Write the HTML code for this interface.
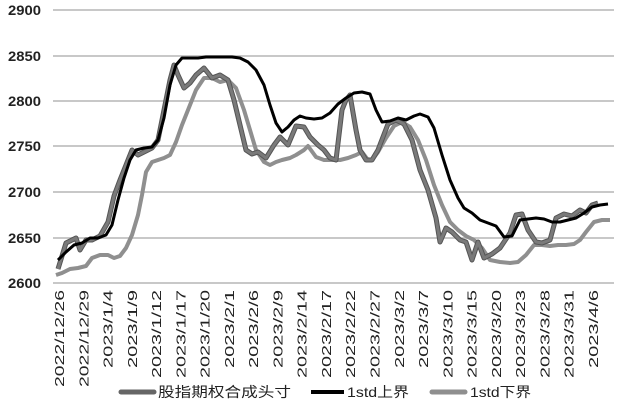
<!DOCTYPE html>
<html><head><meta charset="utf-8"><style>
html,body{margin:0;padding:0;background:#fff;}
svg{display:block;font-family:"Liberation Sans","Noto Sans CJK SC",sans-serif;}
</style></head><body>
<svg width="618" height="407" viewBox="0 0 618 407" xmlns="http://www.w3.org/2000/svg">
<rect width="618" height="407" fill="#fff"/>
<g stroke="#c8c8c8" stroke-width="2">
<line x1="53" y1="10" x2="614" y2="10"/>
<line x1="53" y1="56" x2="614" y2="56"/>
<line x1="53" y1="101" x2="614" y2="101"/>
<line x1="53" y1="146" x2="614" y2="146"/>
<line x1="53" y1="192" x2="614" y2="192"/>
<line x1="53" y1="238" x2="614" y2="238"/>
<line x1="53" y1="283" x2="614" y2="283"/>
</g>
<g font-size="14" fill="#222" font-weight="bold" text-anchor="end">
<text x="41" y="15" textLength="33" lengthAdjust="spacingAndGlyphs">2900</text>
<text x="41" y="61" textLength="33" lengthAdjust="spacingAndGlyphs">2850</text>
<text x="41" y="106" textLength="33" lengthAdjust="spacingAndGlyphs">2800</text>
<text x="41" y="151" textLength="33" lengthAdjust="spacingAndGlyphs">2750</text>
<text x="41" y="197" textLength="33" lengthAdjust="spacingAndGlyphs">2700</text>
<text x="41" y="243" textLength="33" lengthAdjust="spacingAndGlyphs">2650</text>
<text x="41" y="288" textLength="33" lengthAdjust="spacingAndGlyphs">2600</text>
</g>
<polyline fill="none" stroke="#8f8f8f" stroke-width="4" stroke-linejoin="round" points="56,275 62,273 70,269 78,268 86,266 92,258 100,255 108,255 114,258 120,256 126,248 132,235 138,215 142,195 146,172 152,162 158,160 164,158 170,155 176,142 182,125 190,105 196,90 204,78 212,78 220,82 228,80 236,88 244,110 250,130 256,150 264,162 270,165 276,162 282,160 290,158 296,155 304,150 308,146 316,157 324,160 332,160 340,160 348,158 356,155 362,152 368,160 372,160 378,152 386,138 394,126 402,122 410,127 418,140 426,160 434,185 442,205 450,222 458,230 466,236 474,240 482,248 490,260 500,262 510,263 518,262 526,255 534,245 542,245 550,246 558,245 566,245 574,244 580,240 586,232 594,222 602,220 610,220"/>
<polyline fill="none" stroke="#555" stroke-width="5" stroke-linejoin="round" points="58,269 62,256 66,243 72,240 76,238 80,250 86,240 92,240 100,236 108,222 114,196 120,180 126,165 132,150 138,155 144,152 152,148 158,140 162,120 166,100 170,80 174,65 178,75 184,88 190,83 196,75 204,68 212,78 220,75 228,80 234,100 240,125 246,150 252,154 258,152 266,158 274,145 280,137 288,145 296,126 304,127 310,137 318,145 324,150 330,158 336,160 342,110 346,100 350,95 356,130 360,150 366,160 372,160 378,150 388,124 396,120 404,124 412,140 420,170 428,190 436,218 440,242 446,228 452,232 460,240 466,242 472,260 478,242 484,258 492,254 500,248 510,233 516,215 522,214 528,230 536,242 542,243 550,240 556,218 564,214 572,216 580,210 586,213 592,205 598,203"/>
<polyline fill="none" stroke="#7a7a7a" stroke-width="3" stroke-linejoin="round" points="58,269 62,256 66,243 72,240 76,238 80,250 86,240 92,240 100,236 108,222 114,196 120,180 126,165 132,150 138,155 144,152 152,148 158,140 162,120 166,100 170,80 174,65 178,75 184,88 190,83 196,75 204,68 212,78 220,75 228,80 234,100 240,125 246,150 252,154 258,152 266,158 274,145 280,137 288,145 296,126 304,127 310,137 318,145 324,150 330,158 336,160 342,110 346,100 350,95 356,130 360,150 366,160 372,160 378,150 388,124 396,120 404,124 412,140 420,170 428,190 436,218 440,242 446,228 452,232 460,240 466,242 472,260 478,242 484,258 492,254 500,248 510,233 516,215 522,214 528,230 536,242 542,243 550,240 556,218 564,214 572,216 580,210 586,213 592,205 598,203"/>
<polyline fill="none" stroke="#000" stroke-width="3" stroke-linejoin="round" points="58,260 66,252 74,245 82,243 90,238 98,238 106,235 112,225 118,200 124,178 130,160 136,150 144,148 152,147 158,140 164,118 170,85 176,65 182,58 190,58 198,58 206,57 214,57 222,57 232,57 240,58 248,62 256,70 264,85 270,105 276,123 282,132 288,127 294,120 300,116 306,118 314,119 322,118 330,113 338,104 346,98 354,93 362,92 370,94 376,110 382,122 390,121 398,118 406,120 414,116 420,114 428,117 434,128 442,155 450,180 458,198 464,208 472,213 480,220 488,223 496,226 504,237 512,236 520,220 528,219 536,218 544,219 552,222 560,222 568,220 576,218 584,213 592,207 600,205 608,204"/>
<g font-size="13" fill="#222" text-anchor="end">
<text transform="translate(64,290) rotate(-90)" textLength="97" lengthAdjust="spacingAndGlyphs">2022/12/26</text>
<text transform="translate(88.3,290) rotate(-90)" textLength="97" lengthAdjust="spacingAndGlyphs">2022/12/29</text>
<text transform="translate(112.5,290) rotate(-90)" textLength="78" lengthAdjust="spacingAndGlyphs">2023/1/4</text>
<text transform="translate(136.8,290) rotate(-90)" textLength="78" lengthAdjust="spacingAndGlyphs">2023/1/9</text>
<text transform="translate(161.1,290) rotate(-90)" textLength="88" lengthAdjust="spacingAndGlyphs">2023/1/12</text>
<text transform="translate(185.4,290) rotate(-90)" textLength="88" lengthAdjust="spacingAndGlyphs">2023/1/17</text>
<text transform="translate(209.6,290) rotate(-90)" textLength="88" lengthAdjust="spacingAndGlyphs">2023/1/20</text>
<text transform="translate(233.9,290) rotate(-90)" textLength="78" lengthAdjust="spacingAndGlyphs">2023/2/1</text>
<text transform="translate(258.2,290) rotate(-90)" textLength="78" lengthAdjust="spacingAndGlyphs">2023/2/6</text>
<text transform="translate(282.4,290) rotate(-90)" textLength="78" lengthAdjust="spacingAndGlyphs">2023/2/9</text>
<text transform="translate(306.7,290) rotate(-90)" textLength="88" lengthAdjust="spacingAndGlyphs">2023/2/14</text>
<text transform="translate(331,290) rotate(-90)" textLength="88" lengthAdjust="spacingAndGlyphs">2023/2/17</text>
<text transform="translate(355.2,290) rotate(-90)" textLength="88" lengthAdjust="spacingAndGlyphs">2023/2/22</text>
<text transform="translate(379.5,290) rotate(-90)" textLength="88" lengthAdjust="spacingAndGlyphs">2023/2/27</text>
<text transform="translate(403.8,290) rotate(-90)" textLength="78" lengthAdjust="spacingAndGlyphs">2023/3/2</text>
<text transform="translate(428,290) rotate(-90)" textLength="78" lengthAdjust="spacingAndGlyphs">2023/3/7</text>
<text transform="translate(452.3,290) rotate(-90)" textLength="88" lengthAdjust="spacingAndGlyphs">2023/3/10</text>
<text transform="translate(476.6,290) rotate(-90)" textLength="88" lengthAdjust="spacingAndGlyphs">2023/3/15</text>
<text transform="translate(500.9,290) rotate(-90)" textLength="88" lengthAdjust="spacingAndGlyphs">2023/3/20</text>
<text transform="translate(525.1,290) rotate(-90)" textLength="88" lengthAdjust="spacingAndGlyphs">2023/3/23</text>
<text transform="translate(549.4,290) rotate(-90)" textLength="88" lengthAdjust="spacingAndGlyphs">2023/3/28</text>
<text transform="translate(573.7,290) rotate(-90)" textLength="88" lengthAdjust="spacingAndGlyphs">2023/3/31</text>
<text transform="translate(598,290) rotate(-90)" textLength="78" lengthAdjust="spacingAndGlyphs">2023/4/6</text>
</g>
<g font-size="14" fill="#222">
<line x1="121" y1="392" x2="154" y2="392" stroke="#666" stroke-width="5" stroke-linecap="round"/>
<text x="158" y="397" textLength="133" lengthAdjust="spacingAndGlyphs">股指期权合成头寸</text>
<line x1="311" y1="392" x2="344" y2="392" stroke="#000" stroke-width="4"/>
<text x="347" y="397" textLength="62" lengthAdjust="spacingAndGlyphs">1std上界</text>
<line x1="432" y1="392" x2="465" y2="392" stroke="#8f8f8f" stroke-width="5" stroke-linecap="round"/>
<text x="470" y="397" textLength="61" lengthAdjust="spacingAndGlyphs">1std下界</text>
</g>
</svg>
</body></html>
